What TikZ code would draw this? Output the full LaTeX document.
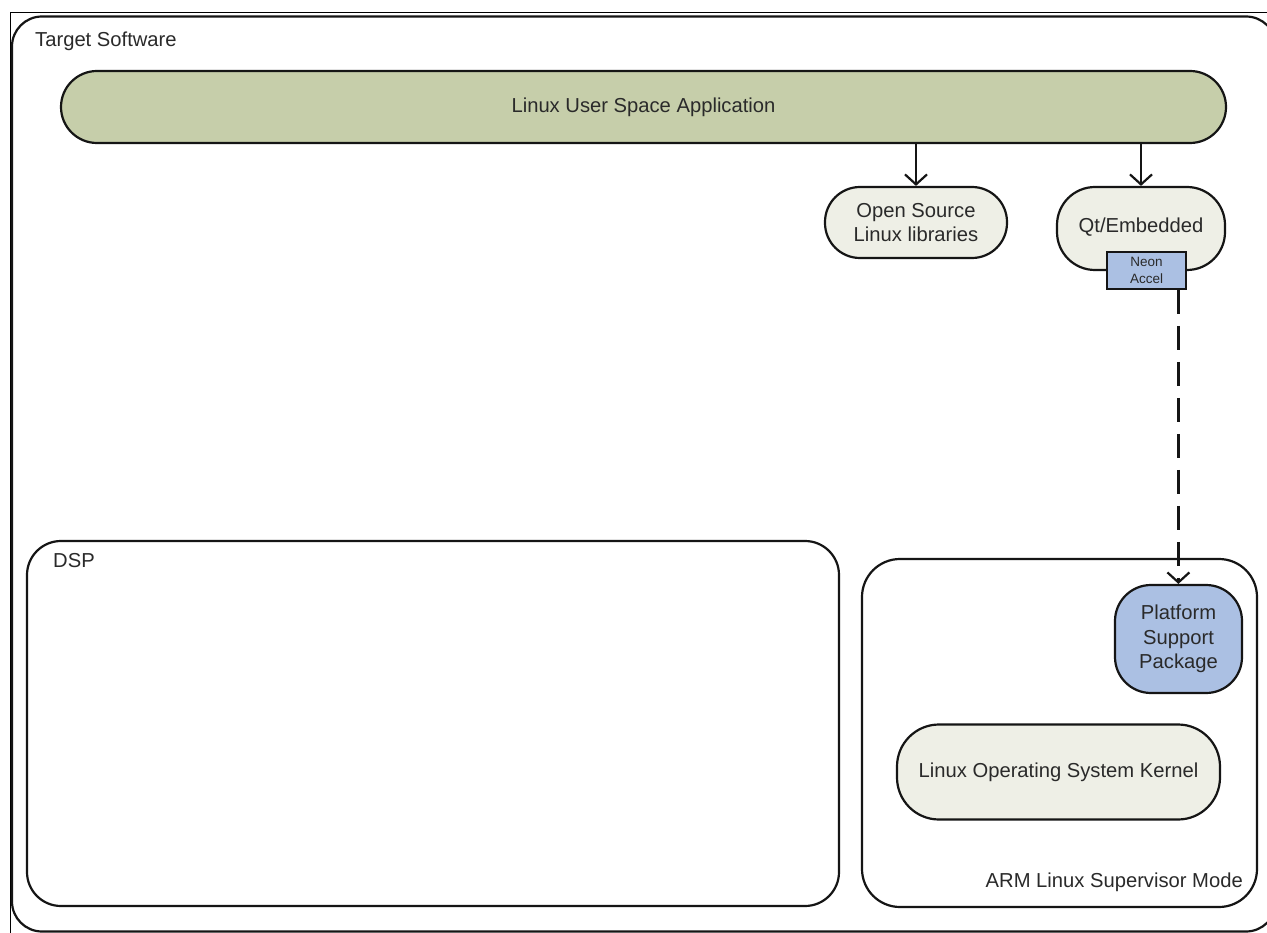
\documentclass[tikz,border=0pt]{standalone}
\usepackage{fontspec}
\setmainfont{Liberation Sans}
\usetikzlibrary{arrows.meta}

\definecolor{txt}{HTML}{2A2A2A}
\definecolor{appgreen}{HTML}{C6CEAA}
\definecolor{paleface}{HTML}{EEEFE6}
\definecolor{bspblue}{HTML}{ABC0E3}
\definecolor{edge}{HTML}{151515}

\tikzset{
  box/.style={draw=edge, line width=2.2pt, inner sep=0pt, align=center,
    text=txt, font=\fontsize{20.2}{24.5}\selectfont},
  pale/.style={box, fill=paleface},
  region/.style={draw=edge, line width=2.2pt, fill=none, inner sep=0pt},
  caption/.style={text=txt, font=\fontsize{20.2}{24}\selectfont, inner sep=0pt},
  flow/.style={draw=edge, line width=2.2pt,
    -{Straight Barb[length=10pt, width=22pt, line width=2.2pt]}},
}

\begin{document}
\begin{tikzpicture}[x=1pt, y=-1pt]
  \useasboundingbox (0,0) rectangle (1267,933);
  \clip (0,0) rectangle (1267,933);
  \fill[white] (0,0) rectangle (1267,933);

  % frame edges along top and left
  \draw[black, line width=1pt] (10,13) -- (1267,13);
  \draw[black, line width=1pt] (10,13) -- (10,933);

  % outermost region
  \node[region, rounded corners=30pt, minimum width=1264pt, minimum height=915pt]
    (target) at (644,474) {};
  \node[caption, anchor=west] (targetlbl) at (35,41) {Target Software};

  % user space application bar
  \node[box, fill=appgreen, rounded corners=36pt, minimum width=1165pt,
    minimum height=72pt] (app) at (643.5,107) {Linux User Space Application};

  % libraries
  \node[pale, rounded corners=35pt, minimum width=182pt, minimum height=71pt]
    (oss) at (916,222.5) {Open Source\\Linux libraries};
  \node[pale, rounded corners=38pt, minimum width=168pt, minimum height=83pt]
    (qt) at (1141,228.5) {};
  \node[caption] (qtlbl) at (1141,227) {Qt/Embedded};
  \node[box, fill=bspblue, line width=1.8pt, minimum width=79pt, minimum height=37pt,
    font=\fontsize{13.5}{17}\selectfont] (neon) at (1146.5,270.5) {Neon\\Accel};

  % DSP region
  \node[region, rounded corners=34pt, minimum width=812pt, minimum height=365pt]
    (dsp) at (433,723.5) {};
  \node[caption, anchor=west] (dsplbl) at (53,561) {DSP};

  % ARM region
  \node[region, rounded corners=38pt, minimum width=395pt, minimum height=348pt]
    (arm) at (1059.5,733) {};
  \node[caption, anchor=east] (armlbl) at (1243,882) {ARM Linux Supervisor Mode};

  \node[box, fill=bspblue, rounded corners=36pt, minimum width=127pt,
    minimum height=108pt] (psp) at (1178.5,639) {Platform\\Support\\Package};
  \node[pale, rounded corners=42pt, minimum width=323pt, minimum height=95pt]
    (kernel) at (1058.5,772) {Linux Operating System Kernel};

  % connectors
  \draw[flow] (app.south -| oss.north) -- (oss.north);
  \draw[flow] (app.south -| qt.north) -- (qt.north);
  \coordinate (neonout) at ([xshift=-8.5pt]neon.south east);
  \draw[flow, dash pattern=on 24pt off 12pt] (neonout) -- (neonout |- psp.north);
\end{tikzpicture}
\end{document}
